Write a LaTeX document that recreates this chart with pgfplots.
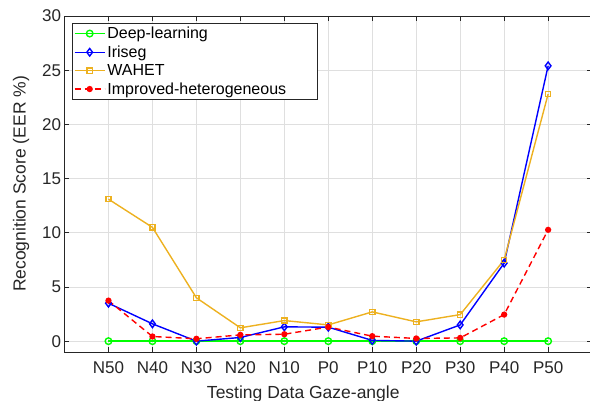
\documentclass[border=0pt]{standalone}
\usepackage{fontspec}
\setmainfont{Liberation Sans}
\usepackage{pgfplots}
\pgfplotsset{compat=1.18}
\definecolor{mlgreen}{rgb}{0,1,0}
\definecolor{mlorange}{rgb}{0.929,0.694,0.125}
\definecolor{mltext}{RGB}{38,38,38}
\definecolor{mlgrid}{RGB}{223,223,223}
\begin{document}
\begin{tikzpicture}
\begin{axis}[
    scale only axis,
    width=527.6pt, height=336pt,
    xmin=0, xmax=12, ymin=-1, ymax=30,
    xtick={1,...,11},
    xticklabels={N50,N40,N30,N20,N10,P0,P10,P20,P30,P40,P50},
    ytick={0,5,...,30},
    grid=major,
    major grid style={mlgrid, line width=0.7pt},
    tick align=inside,
    major tick length=5pt,
    every tick/.style={mltext, line width=0.7pt},
    axis line style={mltext, line width=0.7pt},
    /pgf/number format/assume math mode=true,
    tick label style={font=\fontsize{17}{19}\selectfont, text=mltext},
    xticklabel style={yshift=-6pt},
    label style={font=\fontsize{17.5}{20}\selectfont, text=mltext},
    xlabel={Testing Data Gaze-angle},
    xlabel style={xshift=-25pt, yshift=-5pt},
    ylabel={Recognition Score (EER \%)},
    ylabel style={yshift=6pt},
    legend cell align=left,
    legend image code/.code={
        \draw[line width=1.4pt] (0pt,0pt) -- (30pt,0pt);
        \draw[only marks] plot coordinates {(15pt,0pt)};
    },
    legend style={at={(0,1)}, anchor=north west, xshift=7.8pt, yshift=-7.3pt,
        font=\fontsize{16}{18}\selectfont, draw=mltext,
        inner sep=1.5pt, row sep=1.6pt},
]
\addplot[mlgreen, line width=1.4pt, mark=o, mark size=3.3pt] coordinates {
    (1,0) (2,0) (3,0) (4,0) (5,0) (6,0) (7,0) (8,0) (9,0) (10,0) (11,0)
};
\addlegendentry{Deep-learning}
\addplot[blue, line width=1.4pt, mark=diamond, mark size=3.8pt] coordinates {
    (1,3.5) (2,1.6) (3,0.0) (4,0.34) (5,1.32) (6,1.29) (7,0.07) (8,0.0) (9,1.5) (10,7.2) (11,25.4)
};
\addlegendentry{Iriseg}
\addplot[mlorange, line width=1.4pt, mark=square, mark size=2.6pt] coordinates {
    (1,13.1) (2,10.5) (3,4.0) (4,1.23) (5,1.9) (6,1.5) (7,2.7) (8,1.78) (9,2.45) (10,7.5) (11,22.8)
};
\addlegendentry{WAHET}
\addplot[red, line width=1.4pt, dash pattern=on 6pt off 4pt, mark=*, mark size=2.4pt, mark options={solid}] coordinates {
    (1,3.74) (2,0.43) (3,0.22) (4,0.58) (5,0.64) (6,1.3) (7,0.46) (8,0.25) (9,0.3) (10,2.45) (11,10.27)
};
\addlegendentry{Improved-heterogeneous\rule{28pt}{0pt}}
\end{axis}
\pgfresetboundingbox
\path[use as bounding box] (-64.5pt,-49pt) rectangle (525.5pt,352pt);
\end{tikzpicture}
\end{document}
